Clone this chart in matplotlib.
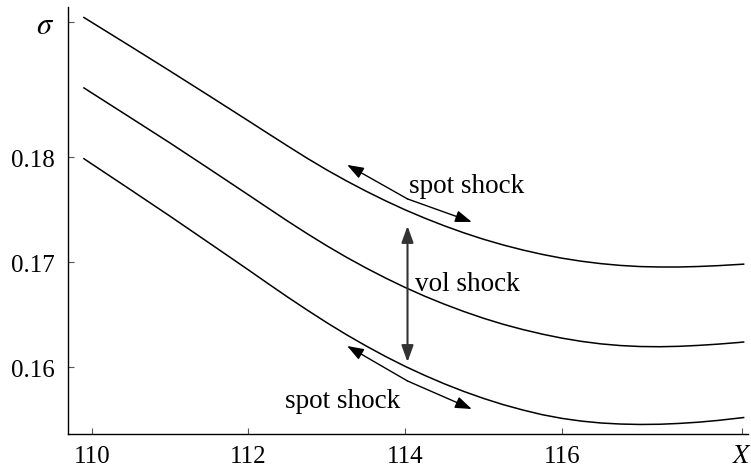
import matplotlib
matplotlib.use("Agg")
import matplotlib.pyplot as plt

plt.rcParams['font.family'] = ['Liberation Serif', 'DejaVu Serif']
plt.rcParams['mathtext.fontset'] = 'stix'

# strike levels
x = [109.9, 110.0, 110.5, 111.0, 111.5, 112.0, 112.25, 112.5, 112.75, 113.0, 113.25,
     113.5, 113.75, 114.0, 114.25, 114.5, 114.75, 115.0, 115.25, 115.5, 115.75, 116.0,
     116.25, 116.5, 116.75, 117.0, 117.25, 117.5, 117.75, 118.0, 118.25, 118.32]
# three implied-vol smiles
sigma_top = [0.19330, 0.19284, 0.19053, 0.18820, 0.18584, 0.18346, 0.18226, 0.18107,
             0.17990, 0.17879, 0.17775, 0.17677, 0.17585, 0.17499, 0.17420, 0.17347,
             0.17280, 0.17219, 0.17165, 0.17117, 0.17075, 0.17039, 0.17010, 0.16987,
             0.16970, 0.16959, 0.16955, 0.16955, 0.16960, 0.16968, 0.16979, 0.16982]
sigma_mid = [0.18660, 0.18612, 0.18374, 0.18135, 0.17889, 0.17641, 0.17516, 0.17392,
             0.17272, 0.17157, 0.17048, 0.16946, 0.16850, 0.16760, 0.16677, 0.16601,
             0.16531, 0.16467, 0.16410, 0.16360, 0.16316, 0.16278, 0.16247, 0.16223,
             0.16207, 0.16198, 0.16196, 0.16200, 0.16209, 0.16221, 0.16236, 0.16241]
sigma_bot = [0.17986, 0.17936, 0.17688, 0.17438, 0.17183, 0.16927, 0.16797, 0.16669,
             0.16545, 0.16425, 0.16311, 0.16204, 0.16103, 0.16009, 0.15923, 0.15843,
             0.15770, 0.15704, 0.15645, 0.15594, 0.15549, 0.15514, 0.15488, 0.15470,
             0.15460, 0.15456, 0.15458, 0.15466, 0.15478, 0.15495, 0.15516, 0.15522]

xticks = [110, 112, 114, 116, 118.3]
xticklabels = ['110', '112', '114', '116', r'$X$']
yticks = [0.16, 0.17, 0.18, 0.1929]
yticklabels = ['0.16', '0.17', '0.18', r'$\sigma$']

# annotation anchors (data coords)
spot_up_center = (114.03, 0.17603)
spot_up_left = (113.26, 0.17927)
spot_up_right = (114.85, 0.17384)
spot_lo_center = (114.03, 0.15870)
spot_lo_left = (113.26, 0.16203)
spot_lo_right = (114.85, 0.15603)
vol_top = (114.03, 0.17346)
vol_bot = (114.03, 0.16050)

fig = plt.figure(figsize=(7.51, 4.77), dpi=100)
ax = fig.add_axes([0.0909, 0.088, 0.905, 0.895])

for s in (sigma_top, sigma_mid, sigma_bot):
    ax.plot(x, s, color='black', lw=1.1, solid_joinstyle='round')

ax.set_xlim(109.70, 118.375)
ax.set_ylim(0.15365, 0.19429)

ax.spines['top'].set_visible(False)
ax.spines['right'].set_visible(False)
for sp in ('left', 'bottom'):
    ax.spines[sp].set_linewidth(1.0)

ax.set_xticks(xticks)
ax.set_xticklabels(xticklabels)
ax.set_yticks(yticks)
ax.set_yticklabels(yticklabels)
ax.tick_params(direction='in', length=4, width=0.8, color='#555555', labelsize=18)
ax.tick_params(axis='y', pad=10)
ax.tick_params(axis='x', pad=8)
ax.get_yticklabels()[-1].set_fontsize(22)
ax.get_xticklabels()[-1].set_fontsize(19)

ap_thin = dict(arrowstyle='-|>,head_length=0.5,head_width=0.18', color='black', lw=1.0,
               mutation_scale=20, shrinkA=0, shrinkB=0)
for c, ends in ((spot_up_center, (spot_up_left, spot_up_right)),
                (spot_lo_center, (spot_lo_left, spot_lo_right))):
    for e in ends:
        ax.annotate('', xy=e, xytext=c, arrowprops=ap_thin)

ap_vol = dict(arrowstyle='<|-|>,head_length=0.5,head_width=0.18', color='#333333', lw=1.5,
              mutation_scale=20, shrinkA=0, shrinkB=0)
ax.annotate('', xy=vol_top, xytext=vol_bot, arrowprops=ap_vol)

ax.text(114.79, 0.17735, 'spot shock', fontsize=19.5, ha='center', va='center')
ax.text(114.79, 0.16794, 'vol shock', fontsize=19.5, ha='center', va='center')
ax.text(113.2, 0.1568, 'spot shock', fontsize=19.5, ha='center', va='center')

fig.savefig('out.png', dpi=100)
